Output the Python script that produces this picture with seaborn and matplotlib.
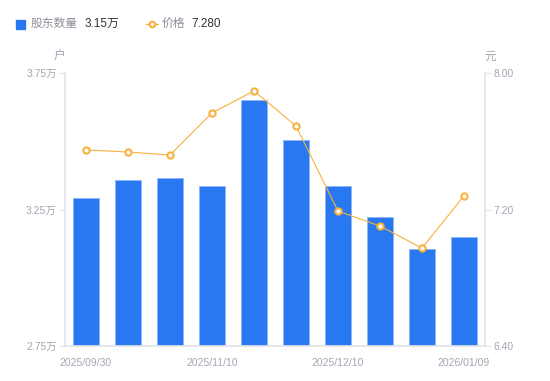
import pandas as pd
import matplotlib
matplotlib.use("Agg")
import matplotlib.pyplot as plt
import seaborn as sns
from matplotlib.lines import Line2D
from matplotlib.patches import Rectangle

dates = ['2025/09/30', '2025/10/20', '2025/10/31', '2025/11/10', '2025/11/20',
         '2025/11/28', '2025/12/10', '2025/12/19', '2025/12/31', '2026/01/09']
holders = [3.292, 3.358, 3.365, 3.336, 3.651, 3.505, 3.336, 3.223, 3.105, 3.15]  # 万户
price = [7.549, 7.537, 7.519, 7.766, 7.895, 7.689, 7.191, 7.103, 6.974, 7.280]
shown_dates = ['2025/09/30', '2025/11/10', '2025/12/10', '2026/01/09']

BLUE = '#2878f2'
ORANGE = '#f8b13c'
GREY = '#a3a6b4'
AXIS = '#e3e4e8'

sns.set_theme(style='white')
plt.rcParams['font.family'] = ['Liberation Sans', 'Noto Sans CJK SC', 'DejaVu Sans']

df = pd.DataFrame({'date': dates, 'holders': holders, 'price': price})

fig = plt.figure(figsize=(5.5, 3.81), dpi=100)
ax = fig.add_axes([65 / 550, 1 - 346 / 381, 420 / 550, 273 / 381])
sns.barplot(data=df, x='date', y='holders', color=BLUE, width=0.6, saturation=1,
            edgecolor='#8cb6f8', linewidth=0.6, ax=ax)
ax.set_ylim(2.75, 3.75)
ax.set_xlim(-0.5, len(dates) - 0.5)
ax.set_yticks([2.75, 3.25, 3.75])
ax.set_yticklabels(['2.75万', '3.25万', '3.75万'])
ax.set_xticks([dates.index(d) for d in shown_dates])
ax.set_xticklabels(shown_dates)
ax.set_xlabel('')
ax.set_ylabel('')

ax2 = ax.twinx()
sns.lineplot(x=range(len(dates)), y=price, color=ORANGE, linewidth=0.8, marker='o',
             markersize=4.5, markerfacecolor='white', markeredgecolor=ORANGE,
             markeredgewidth=1.5, ax=ax2)
ax2.set_ylim(6.4, 8.0)
ax2.set_yticks([6.4, 7.2, 8.0])
ax2.set_yticklabels(['6.40', '7.20', '8.00'])
ax2.set_ylabel('')

for a in (ax, ax2):
    for s in a.spines.values():
        s.set_visible(False)
    a.grid(False)
ax.spines['left'].set_visible(True)
ax.spines['left'].set_color(AXIS)
ax.spines['bottom'].set_visible(True)
ax.spines['bottom'].set_color(AXIS)
ax2.spines['right'].set_visible(True)
ax2.spines['right'].set_color(AXIS)

ax.tick_params(axis='y', left=True, length=4, width=0.8, color=AXIS, labelsize=7.5,
               labelcolor=GREY, pad=2)
ax.tick_params(axis='x', bottom=False, labelsize=7.5, labelcolor=GREY, pad=3)
ax2.tick_params(axis='y', right=True, length=4, width=0.8, color=AXIS, labelsize=7.5,
                labelcolor=GREY, pad=2)

fig.text(60 / 550, 1 - 57 / 381, '户', fontsize=8.5, color=GREY, ha='center', va='center')
fig.text(490 / 550, 1 - 57 / 381, '元', fontsize=8.5, color=GREY, ha='center', va='center')

# legend header
fig.patches.append(Rectangle((16 / 550, 1 - 29 / 381), 9 / 550, 9 / 381,
                             transform=fig.transFigure, color=BLUE, figure=fig))
fig.text(31 / 550, 1 - 24 / 381, '股东数量', fontsize=8.5, color='#8c8f9c', va='center')
fig.text(85 / 550, 1 - 24 / 381, '3.15万', fontsize=8.5, color='#333333', va='center')
fig.lines.append(Line2D([146 / 550, 158 / 550], [1 - 24 / 381, 1 - 24 / 381],
                        transform=fig.transFigure, color=ORANGE, linewidth=1,
                        figure=fig))
fig.lines.append(Line2D([152 / 550], [1 - 24 / 381], transform=fig.transFigure,
                        marker='o', markersize=4, markerfacecolor='white',
                        markeredgecolor=ORANGE, markeredgewidth=1.5, figure=fig))
fig.text(162 / 550, 1 - 24 / 381, '价格', fontsize=8.5, color='#8c8f9c', va='center')
fig.text(191 / 550, 1 - 24 / 381, '7.280', fontsize=8.5, color='#333333', va='center')

fig.savefig('out.png', dpi=100, facecolor='white')
